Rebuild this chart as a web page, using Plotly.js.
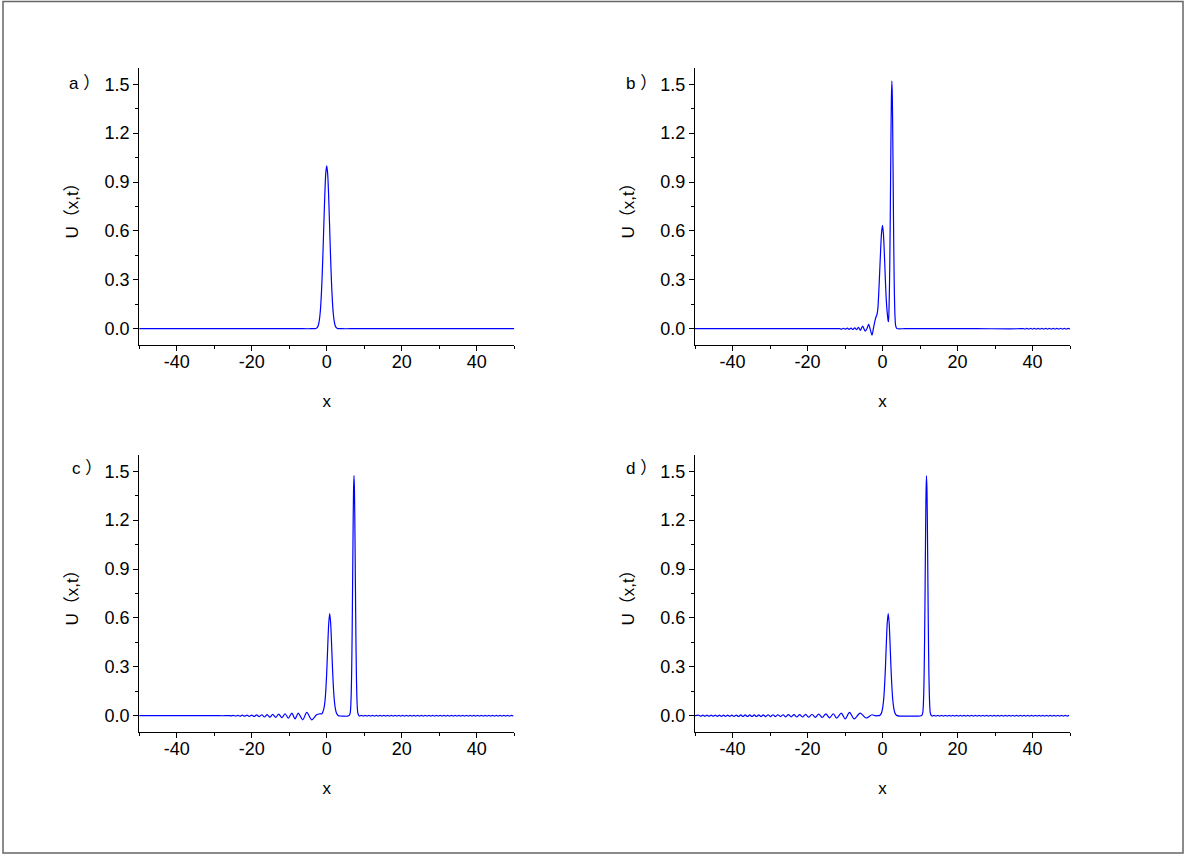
<!DOCTYPE html>
<html>
<head>
<meta charset="utf-8">
<script src="https://cdn.plot.ly/plotly-3.0.1.min.js"></script>
<style>html,body{margin:0;padding:0;background:#fff;}#chart{width:1198px;height:856px;}</style>
</head>
<body>
<div id="chart"></div>
<script>
// ---- tick labels ----
var xTickVals = [-40, -20, 0, 20, 40];
var xTickText = ['-40', '-20', '0', '20', '40'];
var xMinorVals = [-50, -30, -10, 10, 30, 50];
var yTickVals = [0, 0.3, 0.6, 0.9, 1.2, 1.5];
var yTickText = ['0.0', '0.3', '0.6', '0.9', '1.2', '1.5'];
var yMinorVals = [0.15, 0.45, 0.75, 1.05, 1.35];
var panelLabels = ['a ）', 'b ）', 'c ）', 'd ）'];
var xTitle = 'x';
var yTitle = 'U（x,t）';

// ---- panel a ----
var aX = [-50, -20, -8, -4, -3, -2.75, -2.5, -2.25, -2, -1.75, -1.5, -1.25, -1, -0.75, -0.5, -0.25, 0,
          0.25, 0.5, 0.75, 1, 1.25, 1.5, 1.75, 2, 2.25, 2.5, 2.75, 3, 4, 8, 20, 50];
var aY = [0, 0, 0, 0, 0.001, 0.003, 0.008, 0.02, 0.046, 0.095, 0.177, 0.301, 0.463, 0.649, 0.825, 0.953, 1.0,
          0.953, 0.825, 0.649, 0.463, 0.301, 0.177, 0.095, 0.046, 0.02, 0.008, 0.003, 0.001, 0, 0, 0, 0];

// ---- panel b ----
var bX = [-50, -20, -12, -11.5, -10.9, -10.4, -9.9, -9.4, -8.9, -8.4, -7.9, -7.4, -6.9, -6.4, -5.9, -5.3,
          -4.6, -4.15, -3.7, -3.2, -2.8, -2.4, -2.0, -1.75, -1.5, -1.25, -1.0, -0.75, -0.5, -0.25, 0,
          0.25, 0.5, 0.75, 1.0, 1.25, 1.5, 1.6, 1.75, 1.875, 2.0, 2.125, 2.25, 2.375, 2.5, 2.625, 2.75,
          2.875, 3.0, 3.125, 3.25, 3.375, 3.5, 3.75, 4.0, 6, 15, 25, 37];
var bY = [0, 0, 0, 0, -0.002, 0.002, -0.003, 0.003, -0.004, 0.004, -0.005, 0.006, -0.006, 0.008, -0.01, 0.016,
          -0.015, 0.0, 0.026, -0.01, -0.039, 0.005, 0.05, 0.07, 0.085, 0.12, 0.22, 0.35, 0.48, 0.59, 0.634,
          0.58, 0.46, 0.31, 0.18, 0.10, 0.05, 0.043, 0.133, 0.28, 0.515, 0.83, 1.16, 1.42, 1.52, 1.42, 1.16,
          0.83, 0.515, 0.28, 0.133, 0.055, 0.02, 0.003, 0, 0, 0, 0, 0];
var bTailX = [37.5, 38, 38.5, 39, 39.5, 40, 40.5, 41, 41.5, 42, 42.5, 43, 43.5, 44, 44.5, 45, 45.5, 46, 46.5,
              47, 47.5, 48, 48.5, 49, 49.5, 50];
var bTailY = [0.001, -0.002, 0.002, -0.002, 0.002, -0.002, 0.002, -0.002, 0.002, -0.002, 0.002, -0.002, 0.002,
              -0.002, 0.002, -0.002, 0.002, -0.002, 0.002, -0.002, 0.002, -0.002, 0.002, -0.002, 0.002, -0.002];

// ---- panel c ----
var cX = [-50, -40, -30, -27, -26, -25.45, -24.9, -24.3, -23.7, -23.1, -22.5, -21.9, -21.3, -20.65, -20,
          -19.35, -18.7, -18, -17.3, -16.6, -15.9, -15.15, -14.4, -13.6, -12.8, -11.95, -11.1, -10.2, -9.3,
          -8.45, -7.6, -6.4, -5.3, -4.0, -2.7, -1.8, -1.3, -1.0, -0.7, -0.45, -0.2, 0.05, 0.3, 0.55, 0.8,
          1.05, 1.3, 1.55, 1.8, 2.05, 2.3, 2.55, 2.8, 3.05, 3.5, 4.5, 5.5, 6.03, 6.28, 6.405, 6.53, 6.655,
          6.78, 6.905, 7.03, 7.155, 7.28, 7.405, 7.53, 7.655, 7.78, 7.905, 8.03, 8.155, 8.28, 8.53];
var cY = [0, 0, 0, 0, 0.001, -0.001, 0.002, -0.002, 0.002, -0.003, 0.003, -0.003, 0.003, -0.004, 0.004,
          -0.005, 0.005, -0.006, 0.006, -0.008, 0.007, -0.009, 0.008, -0.01, 0.01, -0.012, 0.012, -0.015, 0.016,
          -0.02, 0.016, -0.025, 0.02, -0.025, 0.006, 0.012, 0.012, 0.025, 0.05, 0.09, 0.17, 0.29, 0.44, 0.57, 0.626,
          0.57, 0.44, 0.29, 0.17, 0.09, 0.045, 0.02, 0.008, 0.002, -0.002, -0.003, -0.003, 0.002, 0.019, 0.053,
          0.13, 0.27, 0.50, 0.80, 1.125, 1.38, 1.474, 1.38, 1.125, 0.80, 0.50, 0.27, 0.13, 0.053, 0.019, 0.002];
var cTailX = [8.75, 9.25, 9.75, 10.25, 10.75, 11.25, 11.75, 12.25, 12.75, 13.25, 13.75, 14.25, 14.75, 15.25,
              15.75, 16.25, 16.75, 17.25, 17.75, 18.25, 18.75, 19.25, 19.75, 20.25, 20.75, 21.25, 21.75, 22.25,
              22.75, 23.25, 23.75, 24.25, 24.75, 25.25, 25.75, 26.25, 26.75, 27.25, 27.75, 28.25, 28.75, 29.25,
              29.75, 30.25, 30.75, 31.25, 31.75, 32.25, 32.75, 33.25, 33.75, 34.25, 34.75, 35.25, 35.75, 36.25,
              36.75, 37.25, 37.75, 38.25, 38.75, 39.25, 39.75, 40.25, 40.75, 41.25, 41.75, 42.25, 42.75, 43.25,
              43.75, 44.25, 44.75, 45.25, 45.75, 46.25, 46.75, 47.25, 47.75, 48.25, 48.75, 49.25, 49.75];
var cTailY = [-0.002, 0.002, -0.002, 0.002, -0.002, 0.002, -0.002, 0.002, -0.002, 0.002, -0.002, 0.002, -0.002,
              0.002, -0.002, 0.002, -0.002, 0.002, -0.002, 0.002, -0.002, 0.002, -0.002, 0.002, -0.002, 0.002,
              -0.002, 0.002, -0.002, 0.002, -0.002, 0.002, -0.002, 0.002, -0.002, 0.002, -0.002, 0.002, -0.002,
              0.002, -0.002, 0.002, -0.002, 0.002, -0.002, 0.002, -0.002, 0.002, -0.002, 0.002, -0.002, 0.002,
              -0.002, 0.002, -0.002, 0.002, -0.002, 0.002, -0.002, 0.002, -0.002, 0.002, -0.002, 0.002, -0.002,
              0.002, -0.002, 0.002, -0.002, 0.002, -0.002, 0.002, -0.002, 0.002, -0.002, 0.002, -0.002, 0.002,
              -0.002, 0.002, -0.002, 0.002, -0.002];

// ---- panel d ----
var dX = [-50, -49, -48.45, -47.9, -47.35, -46.8, -46.25, -45.7, -45.15, -44.6, -44.05, -43.5, -42.95, -42.4,
          -41.85, -41.3, -40.75, -40.2, -39.6, -39, -38.4, -37.8, -37.2, -36.6, -36, -35.4, -34.8, -34.2,
          -33.6, -33, -32.4, -31.8, -31.15, -30.5, -29.85, -29.2, -28.55, -27.9, -27.2, -26.5, -25.8, -25.1,
          -24.35, -23.6, -22.85, -22.1, -21.3, -20.5, -19.65, -18.8, -17.9, -17, -16.05, -15.1, -14.1, -13.1,
          -12.2, -11, -9.95, -8.8, -7.55, -5.95, -4.35, -2.8, -2.0, -1.23, -0.73, -0.48, -0.23, 0.02, 0.27,
          0.52, 0.77, 1.02, 1.27, 1.52, 1.77, 2.02, 2.27, 2.52, 2.77, 3.02, 3.27, 3.52, 3.77, 4.5, 6, 8, 10,
          10.49, 10.74, 10.865, 10.99, 11.115, 11.24, 11.365, 11.49, 11.615, 11.74, 11.865, 11.99, 12.115,
          12.24, 12.365, 12.49, 12.615, 12.74, 12.99];
var dY = [0, 0.003, -0.003, 0.003, -0.003, 0.003, -0.003, 0.003, -0.003, 0.003, -0.004, 0.004, -0.004, 0.004,
          -0.004, 0.004, -0.004, 0.004, -0.004, 0.004, -0.005, 0.005, -0.005, 0.005, -0.005, 0.005, -0.005, 0.005,
          -0.005, 0.005, -0.005, 0.005, -0.006, 0.006, -0.006, 0.006, -0.006, 0.006, -0.006, 0.006, -0.007, 0.007,
          -0.007, 0.007, -0.008, 0.007, -0.008, 0.008, -0.009, 0.009, -0.01, 0.01, -0.011, 0.011, -0.013, 0.012,
          -0.015, 0.016, -0.02, 0.02, -0.02, 0.016, -0.014, 0.006, 0.0, 0.0, 0.002, 0.008, 0.02, 0.045, 0.09,
          0.17, 0.29, 0.44, 0.57, 0.626, 0.57, 0.44, 0.29, 0.17, 0.09, 0.045, 0.02, 0.008, 0.002, -0.002, -0.003, -0.003, -0.002,
          0.002, 0.019, 0.053, 0.13, 0.27, 0.50, 0.80, 1.125, 1.38, 1.472, 1.38, 1.125, 0.80,
          0.50, 0.27, 0.13, 0.053, 0.019, 0.002];
var dTailX = [13.25, 13.75, 14.25, 14.75, 15.25, 15.75, 16.25, 16.75, 17.25, 17.75, 18.25, 18.75, 19.25, 19.75,
              20.25, 20.75, 21.25, 21.75, 22.25, 22.75, 23.25, 23.75, 24.25, 24.75, 25.25, 25.75, 26.25, 26.75,
              27.25, 27.75, 28.25, 28.75, 29.25, 29.75, 30.25, 30.75, 31.25, 31.75, 32.25, 32.75, 33.25, 33.75,
              34.25, 34.75, 35.25, 35.75, 36.25, 36.75, 37.25, 37.75, 38.25, 38.75, 39.25, 39.75, 40.25, 40.75,
              41.25, 41.75, 42.25, 42.75, 43.25, 43.75, 44.25, 44.75, 45.25, 45.75, 46.25, 46.75, 47.25, 47.75,
              48.25, 48.75, 49.25, 49.75];
var dTailY = [-0.002, 0.002, -0.002, 0.002, -0.002, 0.002, -0.002, 0.002, -0.002, 0.002, -0.002, 0.002, -0.002,
              0.002, -0.002, 0.002, -0.002, 0.002, -0.002, 0.002, -0.002, 0.002, -0.002, 0.002, -0.002, 0.002,
              -0.002, 0.002, -0.002, 0.002, -0.002, 0.002, -0.002, 0.002, -0.002, 0.002, -0.002, 0.002, -0.002,
              0.002, -0.002, 0.002, -0.002, 0.002, -0.002, 0.002, -0.002, 0.002, -0.002, 0.002, -0.002, 0.002,
              -0.002, 0.002, -0.002, 0.002, -0.002, 0.002, -0.002, 0.002, -0.002, 0.002, -0.002, 0.002, -0.002,
              0.002, -0.002, 0.002, -0.002, 0.002, -0.002, 0.002, -0.002, 0.002];

// ---- build ----
var FONT = 'Liberation Sans, Arial, Noto Sans CJK SC, sans-serif';
var lineStyle = {color: 'rgb(0,0,255)', width: 1.2, shape: 'spline', smoothing: 0.8};

function tr(x, y, ax) {
  return {x: x, y: y, type: 'scatter', mode: 'lines', line: lineStyle,
          xaxis: 'x' + ax, yaxis: 'y' + ax, hoverinfo: 'skip', showlegend: false};
}
var data = [
  tr(aX, aY, ''),
  tr(bX.concat(bTailX), bY.concat(bTailY), '2'),
  tr(cX.concat(cTailX), cY.concat(cTailY), '3'),
  tr(dX.concat(dTailX), dY.concat(dTailY), '4')
];

var W = 1198, H = 856;
function xa(p0, p1, anchor) {
  return {domain: [p0 / W, p1 / W], anchor: anchor, range: [-50, 50], showgrid: false, zeroline: false,
          showline: true, linecolor: '#000', linewidth: 1, mirror: false,
          ticks: 'outside', ticklen: 5, tickwidth: 1, tickcolor: '#000', ticklabelstandoff: -5,
          tickmode: 'array', tickvals: xTickVals, ticktext: xTickText,
          minor: {tickmode: 'array', tickvals: xMinorVals, ticks: 'outside', ticklen: 3, tickcolor: '#000', tickwidth: 1, showgrid: false},
          tickfont: {family: FONT, size: 18, color: '#000'},
          title: {text: xTitle, font: {family: FONT, size: 17, color: '#000'}, standoff: 24},
          fixedrange: true};
}
function ya(p0, p1, anchor) {
  return {domain: [1 - p1 / H, 1 - p0 / H], anchor: anchor, range: [-0.1, 1.6], showgrid: false, zeroline: false,
          showline: true, linecolor: '#000', linewidth: 1, mirror: false,
          ticks: 'outside', ticklen: 5, tickwidth: 1, tickcolor: '#000',
          tickmode: 'array', tickvals: yTickVals, ticktext: yTickText,
          minor: {tickmode: 'array', tickvals: yMinorVals, ticks: 'outside', ticklen: 3, tickcolor: '#000', tickwidth: 1, showgrid: false},
          tickfont: {family: FONT, size: 18, color: '#000'},
          title: {text: yTitle, font: {family: FONT, size: 17, color: '#000'}, standoff: 21},
          fixedrange: true};
}

var layout = {
  width: W, height: H,
  margin: {l: 0, r: 0, t: 0, b: 0},
  paper_bgcolor: '#fff', plot_bgcolor: 'rgba(0,0,0,0)',
  showlegend: false,
  font: {family: FONT, size: 17, color: '#000'},
  xaxis: xa(139.2, 514.2, 'y'),  yaxis: ya(68, 345, 'x'),
  xaxis2: xa(695, 1070, 'y2'),  yaxis2: ya(68, 345, 'x2'),
  xaxis3: xa(139.2, 514.2, 'y3'), yaxis3: ya(455, 732, 'x3'),
  xaxis4: xa(695, 1070, 'y4'),  yaxis4: ya(455, 732, 'x4'),
  shapes: [
    {type: 'rect', xref: 'paper', yref: 'paper', x0: 3 / W, x1: 1183 / W, y0: 1 - 853 / H, y1: 1 - 1.5 / H,
     line: {color: '#666', width: 1.5}, fillcolor: 'rgba(0,0,0,0)', layer: 'below'}
  ],
  annotations: [
    {text: panelLabels[0], x: 85 / W, y: 1 - 83 / H},
    {text: panelLabels[1], x: 641 / W, y: 1 - 83 / H},
    {text: panelLabels[2], x: 87 / W, y: 1 - 469 / H},
    {text: panelLabels[3], x: 641 / W, y: 1 - 469 / H}
  ].map(function (a) {
    return Object.assign({xref: 'paper', yref: 'paper', showarrow: false, xanchor: 'center', yanchor: 'middle',
                          font: {family: FONT, size: 17, color: '#000'}}, a);
  })
};

Plotly.newPlot('chart', data, layout, {staticPlot: true, displayModeBar: false});
</script>
</body>
</html>
